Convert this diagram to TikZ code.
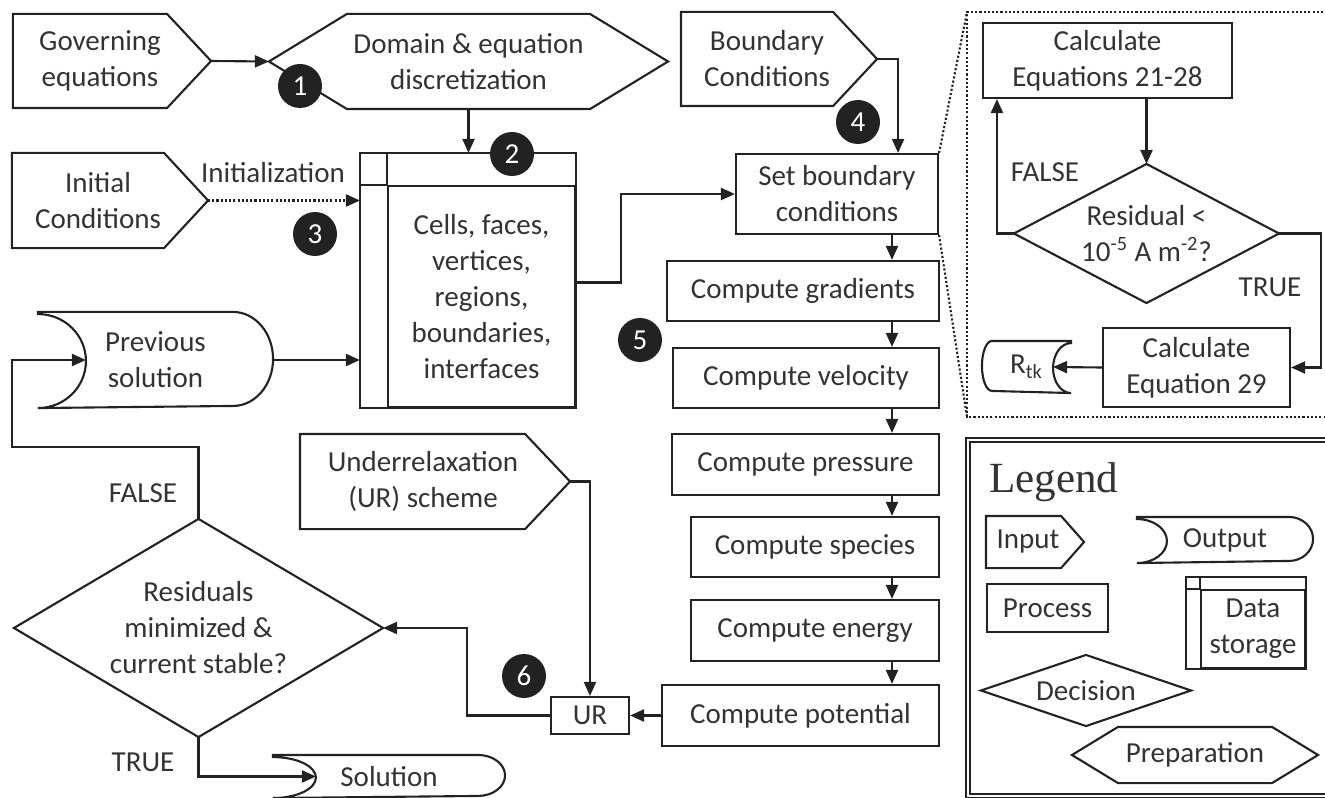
\documentclass[tikz,border=0pt]{standalone}
\usepackage{fontspec}
\setmainfont{Carlito}
\newfontfamily\legfont{Liberation Serif}
\usetikzlibrary{arrows.meta,calc}
\definecolor{ink}{HTML}{222222}
\definecolor{txt}{HTML}{333333}

\newcommand{\inshape}[3]{%
  \draw (#1.north west) -- ([xshift=-#2]#1.north east) -- ([xshift=#3]#1.east)
    -- ([xshift=-#2]#1.south east) -- (#1.south west) -- cycle;}
\newcommand{\prepshape}[2]{%
  \draw (#1.west) -- ([xshift=#2]#1.north west) -- ([xshift=-#2]#1.north east) -- (#1.east)
    -- ([xshift=-#2]#1.south east) -- ([xshift=#2]#1.south west) -- cycle;}
\newcommand{\outshape}[4]{%
  \draw (#1.north west) -- ([xshift=-#3]#1.north east)
    arc[start angle=90, end angle=-90, x radius=#3, y radius=#4]
    -- (#1.south west) arc[start angle=-90, end angle=90, x radius=#2, y radius=#4] -- cycle;}
\newcommand{\outshapeL}[4]{%
  \draw (#1.north east) -- ([xshift=#3]#1.north west)
    arc[start angle=90, end angle=270, x radius=#3, y radius=#4]
    -- (#1.south east) arc[start angle=270, end angle=90, x radius=#2, y radius=#4] -- cycle;}
\newcommand{\stframe}[3]{%
  \draw ([shift={(-#2,#3)}]#1.north west) rectangle (#1.south east);
  \draw ([xshift=-#2]#1.north west) -- (#1.north west);
  \draw ([yshift=#3]#1.north west) -- (#1.north west);}
\newcommand{\decshape}[1]{%
  \draw (#1.west) -- (#1.north) -- (#1.east) -- (#1.south) -- cycle;}

\begin{document}
\begin{tikzpicture}[x=0.2mm, y=-0.2mm, line width=1.2pt, color=ink,
            >={Triangle[length=2.8mm,width=2.4mm]},
            every node/.style={font=\fontsize{16.5}{20.5}\selectfont, text=txt, align=center, inner sep=0pt},
            proc/.style={draw, minimum height=1.2cm},
            numc/.style={circle, fill=ink, text=white, minimum size=0.88cm}]
                \useasboundingbox (0,0) rectangle (1325,798);

                \node[minimum width=3.44cm, minimum height=1.84cm] (goveq) at (100,61) {Governing\\equations};
                \inshape{goveq}{0.4cm}{0.48cm}
                \node[minimum width=3.4cm, minimum height=1.86cm] (initc) at (98,200.5) {Initial\\Conditions};
                \inshape{initc}{0.4cm}{0.48cm}
                \node[minimum width=3.4cm, minimum height=1.84cm] (bcond) at (767,59) {Boundary\\Conditions};
                \inshape{bcond}{0.4cm}{0.48cm}
                \node[minimum width=4.88cm, minimum height=1.86cm] (urs) at (423,481.5) {Underrelaxation\\(UR) scheme};
                \inshape{urs}{0.42cm}{0.48cm}

                \node[minimum width=7.94cm, minimum height=1.86cm] (domain) at (468.5,61.5) {Domain \& equation\\discretization};
                \prepshape{domain}{1.56cm}

                \node[draw, minimum width=3.74cm, minimum height=4.42cm] (mesh) at (481.5,296.5)
                    {Cells, faces,\\vertices,\\regions,\\boundaries,\\interfaces};
                \stframe{mesh}{0.54cm}{0.64cm}

                \node[minimum width=4.66cm, minimum height=1.88cm] (prevsol) at (155.5,360) {Previous\\solution};
                \outshape{prevsol}{0.96cm}{0.8cm}{0.94cm}
                \node[minimum width=4.6cm, minimum height=0.82cm] (sol) at (389,776.5) {Solution};
                \outshape{sol}{0.86cm}{0.54cm}{0.41cm}

                \node[minimum width=7.34cm, minimum height=4.32cm] (resdec) at (198.5,628)
                    {Residuals\\minimized \&\\current stable?};
                \decshape{resdec}

                \node[proc, minimum width=4.04cm, minimum height=1.6cm] (setbc) at (837,194) {Set boundary\\conditions};
                \node[proc, minimum width=5.44cm] (grad) at (803,291) {Compute gradients};
                \node[proc, minimum width=5.32cm] (vel) at (806,378) {Compute velocity};
                \node[proc, minimum width=5.34cm, minimum height=1.22cm] (pres) at (805.5,464.5) {Compute pressure};
                \node[proc, minimum width=4.96cm] (spec) at (815,547) {Compute species};
                \node[proc, minimum width=4.96cm, minimum height=1.22cm] (ener) at (815,630.5) {Compute energy};
                \node[proc, minimum width=5.54cm, minimum height=1.22cm] (pot) at (800.5,715.5) {Compute potential};
                \node[proc, minimum width=1.56cm, minimum height=0.74cm] (ur) at (590,715.5) {UR};

                \node[proc, minimum width=4.98cm, minimum height=1.5cm] (calc1) at (1107.5,60.5) {Calculate\\Equations 21-28};
                \node[minimum width=5.26cm, minimum height=2.74cm] (resid) at (1146.5,233.5)
                    {Residual <\\10\textsuperscript{-5} A m\textsuperscript{-2}?};
                \decshape{resid}
                \node[proc, minimum width=3.74cm, minimum height=1.58cm] (calc2) at (1196.5,367.5) {Calculate\\Equation 29};
                \node[minimum width=1.74cm, minimum height=1cm] (rtk) at (1026.5,367) {R\textsubscript{tk}};
                \outshapeL{rtk}{0.36cm}{0.2cm}{0.5cm}

                \node (initlbl) at (273,173) {Initialization};
                \node (flbl) at (143,493) {FALSE};
                \node (tlbl) at (143,762) {TRUE};
                \node (flbl2) at (1045,172) {FALSE};
                \node (tlbl2) at (1270,287) {TRUE};

                \coordinate (col) at (892,0);
                \coordinate (loopx) at (12,447);
                \coordinate (pnw) at (967,12);
                \coordinate (psw) at (967,417);
                \coordinate (pne) at (1340,12);
                \coordinate (pse) at (1340,417);

            \begin{scope}[->]
                \draw ($(goveq.east)+(24,0)$) -- (domain.west);
                \draw (domain.south) -- ($(domain.south |- mesh.north)+(0,-32)$);
                \draw[dash pattern=on 1.2pt off 1.2pt] ($(initc.east)+(24,0)$) -- ($(initc.east -| mesh.west)+(-27,0)$);
                \draw (prevsol.east) -- ($(prevsol.east -| mesh.west)+(-27,0)$);
                \draw ([yshift=0.28cm]mesh.east) -- ++(45,0) |- (setbc.west);
                \draw ($(bcond.east)+(24,0)$) -| ($(setbc.north east)+(-41,0)$);
                \foreach \a/\b in {setbc/grad, grad/vel, vel/pres, pres/spec, spec/ener, ener/pot}
                    \draw (\a.south -| col) -- (\b.north -| col);
                \draw (pot.west) -- (ur.east);
                \draw ($(urs.east)+(24,0)$) -| (ur.north);
                \draw (ur.west) -- ++(-83,0) |- (resdec.east);
                \draw (resdec.north) |- (loopx) |- ($(prevsol.west)+(48,0)$);
                \draw (resdec.south) |- ($(sol.west)+(43,0)$);
                \draw (resid.north |- calc1.south) -- (resid.north);
                \draw (resid.west) -| ($(calc1.south west)+(15,0)$);
                \draw (resid.east) -- ++(42,0) |- (calc2.east);
                \draw (calc2.west) -- ($(rtk.east)+(-18,0)$);
            \end{scope}

                \draw[dash pattern=on 1.2pt off 1.2pt] (pne) -- (pnw) -- (psw) -- (pse);
                \draw[dash pattern=on 1.2pt off 1.2pt] (setbc.north east) -- (pnw);
                \draw[dash pattern=on 1.2pt off 1.2pt] (setbc.south east) -- (psw);

                \draw[line width=0.9pt, double, double distance=1.6pt] (968,440) rectangle (1340,796);
                \node[anchor=base west, font=\legfont\fontsize{24.5}{29}\selectfont] (legt) at (988,492) {Legend};
                \node[minimum width=1.64cm, minimum height=1cm] (lin) at (1028,542) {Input};
                \inshape{lin}{0.18cm}{0.28cm}
                \node[minimum width=3.48cm, minimum height=0.88cm] (lout) at (1225,540) {Output};
                \outshape{lout}{0.6cm}{0.48cm}{0.44cm}
                \node[proc, minimum width=2.42cm, minimum height=0.96cm] (lproc) at (1047.5,608) {Process};
                \node[draw, minimum width=2.08cm, minimum height=1.56cm] (lstore) at (1253,629) {Data\\storage};
                \stframe{lstore}{0.28cm}{0.24cm}
                \node[minimum width=4.16cm, minimum height=1.38cm] (ldec) at (1086,690.5) {Decision};
                \decshape{ldec}
                \node[minimum width=4.88cm, minimum height=1.08cm] (lprep) at (1195,755) {Preparation};
                \prepshape{lprep}{0.92cm}

                \node[numc] (n1) at (300,86) {1};
                \node[numc] (n2) at (512,154) {2};
                \node[numc] (n3) at (315,234) {3};
                \node[numc] (n4) at (858,122) {4};
                \node[numc] (n5) at (640,340) {5};
                \node[numc] (n6) at (524,676) {6};
        \end{tikzpicture}
\end{document}
